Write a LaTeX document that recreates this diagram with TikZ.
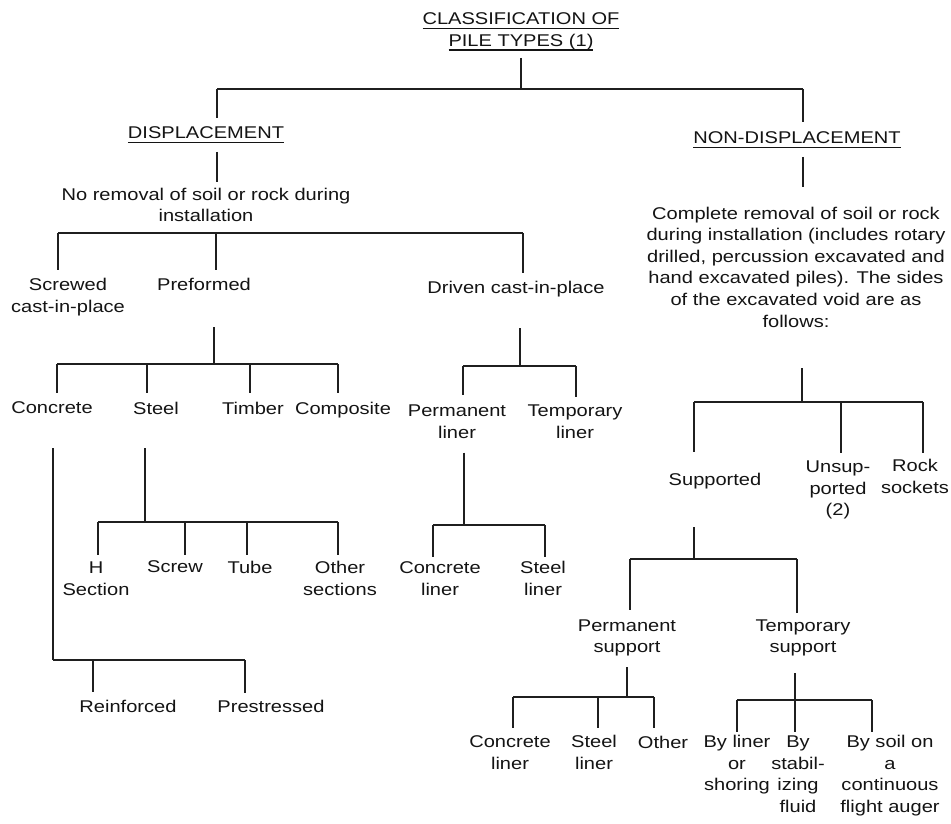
\documentclass[tikz,border=0pt]{standalone}
\usepackage{fontspec}
\setmainfont{Liberation Sans}[FakeStretch=1.18]
\usetikzlibrary{calc}
\newcommand\ulbox[1]{\vtop{\hbox{\raisebox{0pt}[\height][0pt]{#1}}\kern3pt\hrule height 1.4pt}}
\begin{document}
\begin{tikzpicture}[x=1pt,y=-1pt,
  every node/.style={inner sep=0pt, text depth=0pt, align=center, text=black!92,
    font=\fontsize{17}{21.6}\selectfont},
  ln/.style={line width=1.3pt, draw=black!88}]
\fill[white] (0,0) rectangle (951,824);
\useasboundingbox (0,0) rectangle (951,824);

% ---------- text nodes ----------
\node (title) at (521,29.5) {\ulbox{CLASSIFICATION OF}\\\ulbox{PILE TYPES (1)}};
\node (disp) at (206,133) {\ulbox{DISPLACEMENT}};
\node (nond) at (797,138) {\ulbox{NON-DISPLACEMENT}};
\node (norem) at (206,205) {No removal of soil or rock during\\installation};
\node (compl) at (796,267) {Complete removal of soil or rock\\during installation (includes rotary\\drilled, percussion excavated and\\hand excavated piles). The sides\\of the excavated void are as\\follows:};
\node (screwed) at (68,295.5) {Screwed\\cast-in-place};
\node (pref) at (204,284) {Preformed};
\node (driven) at (516,287) {Driven cast-in-place};
\node (conc) at (52,408) {Concrete};
\node (steel) at (156,408) {Steel};
\node (timber) at (253,408) {Timber};
\node (compo) at (343,408) {Composite};
\node (permliner) at (457,421.5) {Permanent\\liner};
\node (templiner) at (575,421.5) {Temporary\\liner};
\node (hsec) at (96,578.5) {H\\Section};
\node (screw) at (175,567) {Screw};
\node (tube) at (250,567) {Tube};
\node (othsec) at (340,578.5) {Other\\sections};
\node (concliner) at (440,578.5) {Concrete\\liner};
\node (steelliner) at (543,578.5) {Steel\\liner};
\node (reinf) at (128,706) {Reinforced};
\node (prest) at (271,706) {Prestressed};
\node (supp) at (715,479) {Supported};
\node (unsup) at (838,488.5) {Unsup-\\ported\\(2)};
\node (rock) at (915,476.5) {Rock\\sockets};
\node (permsup) at (627,636) {Permanent\\support};
\node (tempsup) at (803,636) {Temporary\\support};
\node (pconc) at (510,752.5) {Concrete\\liner};
\node (psteel) at (594,752.5) {Steel\\liner};
\node (pother) at (663,742) {Other};
\node (byliner) at (737,763) {By liner\\or\\shoring};
\node (bystab) at (798,774) {By\\stabil-\\izing\\fluid};
\node (bysoil) at (890,774) {By soil on\\a\\continuous\\flight auger};

% ---------- junctions ----------
\coordinate (j0) at (521,89);
\coordinate (jA) at (217,89);
\coordinate (jB) at (803,89);
\coordinate (j1) at (58,233);
\coordinate (j2) at (216,233);
\coordinate (j3) at (523,233);
\coordinate (j4) at (214,364);
\coordinate (j5) at (57,364);
\coordinate (j6) at (147,364);
\coordinate (j7) at (250,364);
\coordinate (j8) at (338,364);
\coordinate (j9) at (520,366);
\coordinate (j10) at (463,366);
\coordinate (j11) at (576,366);
\coordinate (j12) at (53,660);
\coordinate (j13) at (93,660);
\coordinate (j14) at (245,660);
\coordinate (j15) at (145,522);
\coordinate (j16) at (98,522);
\coordinate (j17) at (185,522);
\coordinate (j18) at (247,522);
\coordinate (j19) at (338,522);
\coordinate (j20) at (464,525);
\coordinate (j21) at (433,525);
\coordinate (j22) at (545,525);
\coordinate (j23) at (802,402);
\coordinate (j24) at (694,402);
\coordinate (j25) at (841,402);
\coordinate (j26) at (923,402);
\coordinate (j27) at (694,559);
\coordinate (j28) at (630,559);
\coordinate (j29) at (797,559);
\coordinate (j30) at (627,697);
\coordinate (j31) at (513,697);
\coordinate (j32) at (598,697);
\coordinate (j33) at (654,697);
\coordinate (j34) at (795,700);
\coordinate (j35) at (737,700);
\coordinate (j36) at (872,700);

% ---------- connectors ----------
\draw[ln] ($(title.center)+(0,28.5)$) -- (j0);
\draw[ln] (jA) -- (jB);
\draw[ln] (jA) -- ($(disp.center -| jA)+(0,-15)$);
\draw[ln] (jB) -- ($(nond.center -| jB)+(0,-16)$);
\draw[ln] ($(disp.center -| jA)+(0,19)$) -- ($(norem.center -| jA)+(0,-23)$);
\draw[ln] ($(nond.center -| jB)+(0,19)$) -- ($(compl.center -| jB)+(0,-80)$);

\draw[ln] (j1) -- (j3);
\draw[ln] (j1) -- ($(screwed.center -| j1)+(0,-25.5)$);
\draw[ln] (j2) -- ($(pref.center -| j2)+(0,-14)$);
\draw[ln] (j3) -- ($(driven.center -| j3)+(0,-14)$);

\draw[ln] ($(pref.center -| j4)+(0,43)$) -- (j4);
\draw[ln] (j5) -- (j8);
\draw[ln] (j5) -- ($(conc.center -| j5)+(0,-15)$);
\draw[ln] (j6) -- ($(steel.center -| j6)+(0,-15)$);
\draw[ln] (j7) -- ($(timber.center -| j7)+(0,-15)$);
\draw[ln] (j8) -- ($(compo.center -| j8)+(0,-15)$);

\draw[ln] ($(driven.center -| j9)+(0,41)$) -- (j9);
\draw[ln] (j10) -- (j11);
\draw[ln] (j10) -- ($(permliner.center -| j10)+(0,-26.5)$);
\draw[ln] (j11) -- ($(templiner.center -| j11)+(0,-24.5)$);

\draw[ln] ($(conc.center -| j12)+(0,40)$) -- (j12);
\draw[ln] (j12) -- (j14);
\draw[ln] (j13) -- ($(reinf.center -| j13)+(0,-14)$);
\draw[ln] (j14) -- ($(prest.center -| j14)+(0,-13)$);

\draw[ln] ($(steel.center -| j15)+(0,40)$) -- (j15);
\draw[ln] (j16) -- (j19);
\draw[ln] (j16) -- ($(hsec.center -| j16)+(0,-23.5)$);
\draw[ln] (j17) -- ($(screw.center -| j17)+(0,-12)$);
\draw[ln] (j18) -- ($(tube.center -| j18)+(0,-12)$);
\draw[ln] (j19) -- ($(othsec.center -| j19)+(0,-23.5)$);

\draw[ln] ($(permliner.center -| j20)+(0,31)$) -- (j20);
\draw[ln] (j21) -- (j22);
\draw[ln] (j21) -- ($(concliner.center -| j21)+(0,-21.5)$);
\draw[ln] (j22) -- ($(steelliner.center -| j22)+(0,-21.5)$);

\draw[ln] ($(compl.center -| j23)+(0,101)$) -- (j23);
\draw[ln] (j24) -- (j26);
\draw[ln] (j24) -- ($(supp.center -| j24)+(0,-27)$);
\draw[ln] (j25) -- ($(unsup.center -| j25)+(0,-35.5)$);
\draw[ln] (j26) -- ($(rock.center -| j26)+(0,-23.5)$);

\draw[ln] ($(supp.center -| j27)+(0,48)$) -- (j27);
\draw[ln] (j28) -- (j29);
\draw[ln] (j28) -- ($(permsup.center -| j28)+(0,-26)$);
\draw[ln] (j29) -- ($(tempsup.center -| j29)+(0,-23)$);

\draw[ln] ($(permsup.center -| j30)+(0,31)$) -- (j30);
\draw[ln] (j31) -- (j33);
\draw[ln] (j31) -- ($(pconc.center -| j31)+(0,-24.5)$);
\draw[ln] (j32) -- ($(psteel.center -| j32)+(0,-24.5)$);
\draw[ln] (j33) -- ($(pother.center -| j33)+(0,-14)$);

\draw[ln] ($(tempsup.center -| j34)+(0,37)$) -- (j34);
\draw[ln] (j35) -- (j36);
\draw[ln] (j35) -- ($(byliner.center -| j35)+(0,-31)$);
\draw[ln] (j34) -- ($(bystab.center -| j34)+(0,-42)$);
\draw[ln] (j36) -- ($(bysoil.center -| j36)+(0,-42)$);
\end{tikzpicture}
\end{document}
